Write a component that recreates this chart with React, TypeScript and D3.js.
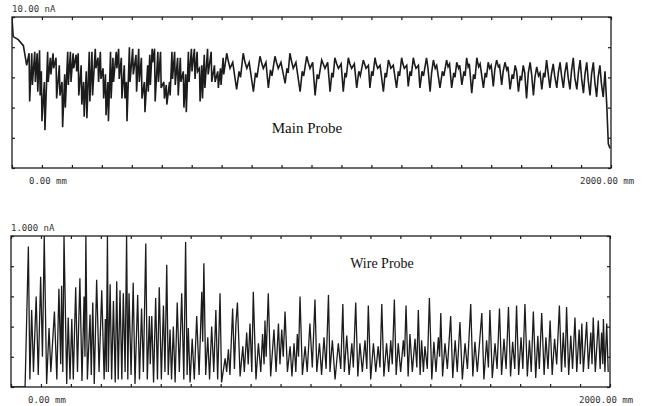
import React, { useEffect, useRef } from 'react'
import * as d3 from 'd3'

// position along the probe (mm) and measured current (nA)
const mainTrace: [number, number][] = [
  [0, 9.9], [4, 8.7], [21, 8.5], [38, 8.1], [49, 6.8],
  [57, 7.6], [59, 4.4], [66, 7.6], [68, 5.5], [76, 7.7], [78, 5.7], [84, 7.6], [86, 5.05],
  [92, 7.8], [94, 4.8], [98, 6.4], [100, 3.1], [108, 5.7], [110, 2.5], [119, 7.7], [121, 5.7],
  [128, 7.3], [130, 6.2], [137, 7.6], [139, 6.6], [147, 7.3], [149, 4.6], [158, 6.8], [160, 4.8],
  [167, 5.7], [169, 2.7], [176, 6.2], [178, 4.0], [186, 7.7], [188, 5.5], [195, 7.7], [197, 5.7],
  [204, 7.6], [206, 6.6], [214, 7.5], [216, 6.4], [221, 7.6], [223, 4.8], [231, 6.8], [233, 4.2],
  [239, 5.7], [241, 3.4], [248, 6.4], [250, 3.3], [258, 7.7], [260, 4.4], [267, 7.7], [269, 4.8],
  [278, 7.9], [280, 6.6], [287, 7.3], [289, 5.7], [295, 7.7], [297, 5.9], [304, 6.6], [306, 4.6],
  [312, 6.2], [314, 3.5], [320, 5.7], [322, 3.1], [329, 7.7], [331, 4.6], [337, 7.3], [339, 5.7],
  [348, 7.7], [350, 6.6], [356, 7.9], [358, 5.9], [365, 7.3], [367, 4.6], [375, 6.8], [377, 4.6],
  [382, 5.7], [384, 3.1], [392, 8.0], [394, 5.7], [403, 7.9], [405, 6.2], [414, 7.5], [416, 5.05],
  [423, 7.9], [425, 5.7], [432, 7.3], [434, 4.6], [442, 5.7], [444, 3.7], [453, 6.8], [455, 5.05],
  [460, 7.5], [462, 5.5], [468, 7.9], [470, 7.0], [476, 7.9], [478, 4.4], [487, 7.7], [489, 5.7],
  [496, 7.7], [498, 5.3], [507, 5.7], [509, 4.6], [515, 5.5], [517, 4.2], [526, 5.7], [528, 4.8],
  [534, 7.7], [536, 5.9], [543, 7.7], [545, 5.5], [553, 7.3], [555, 4.8], [562, 7.3], [564, 5.7],
  [572, 6.4], [574, 4.0], [580, 6.2], [582, 3.7], [589, 7.7], [591, 5.7], [599, 7.9], [601, 6.4],
  [609, 7.9], [611, 5.9], [618, 7.7], [620, 6.4], [626, 6.6], [628, 4.4], [634, 6.8], [636, 4.6],
  [642, 7.5], [644, 5.3], [653, 7.9], [655, 6.2], [665, 7.7], [667, 5.7], [676, 6.8], [678, 5.7],
  [687, 6.4], [689, 5.3], [696, 6.6], [698, 5.5], [705, 7.3], [707, 6.2],
  [717, 7.6], [722, 7.1], [728, 6.6], [737, 7.0], [750, 5.2], [758, 6.4], [763, 6.0],
  [772, 7.6], [778, 7.0], [784, 6.6], [792, 7.0], [806, 5.05], [813, 6.3], [818, 6.0],
  [828, 7.4], [833, 7.0], [839, 6.6], [848, 7.0], [856, 5.3], [863, 6.5], [868, 6.1],
  [878, 7.4], [883, 7.0], [889, 6.6], [898, 7.0], [912, 5.6], [918, 6.6], [922, 6.3],
  [928, 7.6], [933, 7.1], [939, 6.6], [948, 7.0], [962, 5.05], [969, 6.4], [974, 6.1],
  [984, 7.4], [989, 7.0], [995, 6.6], [1004, 7.0], [1012, 4.8], [1019, 6.2], [1024, 5.9],
  [1034, 7.15], [1039, 6.9], [1045, 6.6], [1054, 7.0], [1062, 5.05], [1068, 6.3], [1072, 6.0],
  [1078, 7.3], [1084, 6.9], [1090, 6.6], [1099, 6.9], [1106, 5.05], [1112, 6.3], [1116, 6.0],
  [1123, 7.3], [1128, 6.9], [1134, 6.6], [1143, 6.9], [1151, 5.3], [1158, 6.4], [1163, 6.1],
  [1173, 7.15], [1177, 6.9], [1182, 6.6], [1190, 6.8], [1195, 5.3], [1201, 6.4], [1205, 6.1],
  [1212, 7.3], [1216, 6.9], [1221, 6.6], [1229, 6.8], [1240, 5.05], [1246, 6.3], [1250, 6.0],
  [1257, 7.15], [1261, 6.9], [1265, 6.6], [1273, 6.8], [1284, 5.3], [1290, 6.4], [1294, 6.1],
  [1301, 7.3], [1305, 6.9], [1310, 6.6], [1318, 6.8], [1323, 5.4], [1329, 6.4], [1333, 6.1],
  [1340, 7.3], [1344, 6.9], [1349, 6.6], [1357, 6.8], [1362, 5.3], [1369, 6.4], [1374, 6.1],
  [1384, 7.3], [1389, 6.6], [1396, 5.05], [1401, 6.3],
  [1407, 7.15], [1413, 6.6], [1418, 6.8], [1429, 5.3], [1437, 6.4], [1442, 6.1],
  [1451, 7.15], [1456, 6.7], [1461, 6.9], [1468, 5.3], [1475, 6.3], [1479, 6.0],
  [1485, 7.0], [1491, 6.6], [1495, 6.8], [1502, 5.5], [1509, 6.4], [1513, 6.1],
  [1518, 7.3], [1523, 6.7], [1527, 6.9], [1535, 4.95], [1541, 6.2], [1546, 5.9],
  [1552, 7.3], [1558, 6.7], [1563, 6.9], [1574, 5.3], [1580, 6.3], [1584, 6.0],
  [1590, 7.0], [1595, 6.6], [1600, 6.8], [1607, 5.4], [1612, 6.5],
  [1618, 7.15], [1624, 6.7], [1628, 6.8], [1635, 5.5], [1640, 6.4],
  [1646, 7.0], [1652, 6.5], [1656, 6.7], [1663, 5.2], [1670, 6.2], [1674, 5.9],
  [1680, 6.8], [1685, 6.4], [1691, 5.05], [1697, 6.1], [1701, 5.8],
  [1707, 6.8], [1712, 6.3], [1718, 4.6], [1724, 6.3],
  [1730, 7.0], [1735, 6.2], [1741, 4.8], [1746, 6.0],
  [1752, 6.7], [1758, 6.1], [1763, 6.3], [1769, 5.2], [1775, 6.3], [1779, 6.0],
  [1785, 7.15], [1790, 6.3], [1796, 5.3], [1801, 6.2],
  [1807, 6.9], [1812, 6.1], [1819, 5.3], [1824, 6.3],
  [1830, 7.0], [1835, 6.1], [1841, 5.3], [1846, 6.3],
  [1852, 7.0], [1857, 6.0], [1863, 5.2], [1868, 6.4],
  [1874, 7.3], [1879, 6.0], [1886, 5.2], [1891, 6.3],
  [1897, 7.15], [1902, 5.9], [1908, 4.95], [1913, 6.2],
  [1919, 7.0], [1924, 5.8], [1930, 4.8], [1935, 6.2],
  [1941, 7.0], [1946, 5.7], [1952, 4.7], [1957, 6.0],
  [1963, 6.8], [1968, 5.6], [1974, 4.7], [1980, 6.4], [1986, 4.1], [1991, 1.6], [1997, 1.3],
]

const wireTrace: [number, number][] = [
  [0, 0], [47, 0], [58, 0.93], [63, 0.05], [69, 0.51], [75, 0.1], [84, 0.6], [91, 0.08],
  [99, 0.73], [105, 0.2], [111, 1.0], [119, 0.02], [127, 0.39], [133, 0.1], [145, 0.5], [153, 0.05],
  [160, 0.65], [166, 0.15], [169, 0.67], [173, 0.1], [177, 1.0], [186, 0.02], [191, 0.46], [197, 0.05],
  [203, 0.45], [208, 0.05], [216, 0.66], [222, 0.1], [230, 0.72], [237, 0.04], [244, 0.6], [247, 0.2],
  [250, 1.0], [255, 0.05], [264, 0.48], [268, 0.08], [273, 0.56], [278, 0.02], [286, 0.71], [294, 0.1],
  [303, 0.64], [311, 0.05], [315, 0.45], [318, 0.1], [322, 1.0], [325, 0.1], [331, 0.68], [336, 0.05],
  [342, 0.57], [348, 0.03], [353, 0.7], [358, 0.05], [364, 0.64], [370, 0.05], [375, 0.62], [381, 0.1],
  [386, 1.0], [390, 0.05], [394, 0.62], [401, 0.08], [408, 0.69], [414, 0.02], [423, 0.61], [429, 0.05],
  [436, 0.52], [442, 0.1], [450, 0.95], [455, 0.05], [462, 0.47], [465, 0.15], [470, 0.47], [476, 0.03],
  [483, 0.59], [489, 0.05], [495, 0.66], [502, 0.05], [509, 0.54], [514, 0.1], [520, 0.81], [525, 0.08],
  [531, 0.38], [536, 0.05], [542, 0.4], [548, 0.03], [555, 0.56], [562, 0.1], [570, 0.62], [577, 0.05],
  [583, 0.96], [588, 0.08], [592, 0.39], [598, 0.03], [605, 0.32], [612, 0.05], [620, 0.47], [628, 0.08],
  [637, 0.63], [640, 0.3], [644, 0.82], [650, 0.08], [657, 0.33], [663, 0.05], [670, 0.4], [677, 0.1],
  [684, 0.51], [690, 0.05], [698, 0.62], [703, 0.03], [715, 0.19], [720, 0.1], [726, 0.25], [731, 0.08],
  [740, 0.52], [746, 0.12], [751, 0.42], [756, 0.56], [765, 0.07], [774, 0.27], [779, 0.1], [787, 0.36],
  [792, 0.15], [798, 0.42], [804, 0.1], [809, 0.63], [818, 0.05], [826, 0.29], [834, 0.1], [840, 0.35],
  [845, 0.15], [848, 0.44], [852, 0.2], [859, 0.62], [867, 0.07], [878, 0.38], [885, 0.1], [893, 0.42],
  [898, 0.15], [904, 0.38], [909, 0.2], [915, 0.5], [923, 0.1], [932, 0.27], [938, 0.07], [945, 0.29],
  [951, 0.1], [956, 0.35], [960, 0.2], [965, 0.6], [973, 0.08], [982, 0.27], [989, 0.1], [998, 0.42],
  [1006, 0.13], [1015, 0.58], [1021, 0.1], [1030, 0.29], [1037, 0.08], [1045, 0.33], [1052, 0.12], [1060, 0.61],
  [1065, 0.1], [1073, 0.31], [1082, 0.05], [1093, 0.29], [1101, 0.12], [1108, 0.55], [1113, 0.1], [1121, 0.34],
  [1129, 0.08], [1138, 0.29], [1143, 0.13], [1151, 0.56], [1158, 0.07], [1165, 0.29], [1173, 0.1], [1182, 0.31],
  [1188, 0.12], [1193, 0.54], [1201, 0.05], [1210, 0.29], [1218, 0.1], [1226, 0.27], [1232, 0.13], [1238, 0.55],
  [1245, 0.07], [1254, 0.29], [1261, 0.1], [1268, 0.31], [1273, 0.15], [1280, 0.58], [1286, 0.08], [1293, 0.29],
  [1301, 0.1], [1310, 0.31], [1314, 0.2], [1319, 0.54], [1326, 0.07], [1332, 0.35], [1340, 0.1], [1349, 0.32],
  [1355, 0.13], [1360, 0.51], [1366, 0.08], [1371, 0.31], [1377, 0.1], [1382, 0.27], [1390, 0.12], [1397, 0.59],
  [1405, 0.05], [1412, 0.3], [1419, 0.1], [1427, 0.33], [1431, 0.2], [1435, 0.49], [1441, 0.07], [1449, 0.29],
  [1457, 0.12], [1468, 0.47], [1475, 0.06], [1483, 0.31], [1490, 0.1], [1499, 0.43], [1507, 0.05], [1516, 0.29],
  [1524, 0.12], [1535, 0.55], [1542, 0.07], [1549, 0.3], [1557, 0.1], [1572, 0.49], [1579, 0.05], [1588, 0.31],
  [1594, 0.13], [1599, 0.51], [1607, 0.06], [1616, 0.29], [1623, 0.12], [1631, 0.52], [1638, 0.08], [1646, 0.32],
  [1653, 0.12], [1661, 0.53], [1668, 0.07], [1675, 0.3], [1682, 0.12], [1688, 0.54], [1695, 0.08], [1703, 0.33],
  [1709, 0.12], [1716, 0.55], [1724, 0.07], [1731, 0.31], [1737, 0.1], [1744, 0.5], [1752, 0.06], [1759, 0.34],
  [1764, 0.12], [1772, 0.49], [1780, 0.08], [1786, 0.33], [1793, 0.12], [1800, 0.44], [1807, 0.08], [1815, 0.32],
  [1822, 0.15], [1831, 0.54], [1838, 0.1], [1844, 0.36], [1850, 0.13], [1855, 0.53], [1862, 0.08], [1869, 0.34],
  [1875, 0.12], [1883, 0.46], [1889, 0.1], [1897, 0.38], [1901, 0.15], [1906, 0.42], [1911, 0.1], [1922, 0.43],
  [1928, 0.12], [1936, 0.36], [1940, 0.15], [1944, 0.46], [1951, 0.1], [1961, 0.44], [1967, 0.12], [1972, 0.36],
  [1976, 0.15], [1978, 0.45], [1983, 0.1], [1989, 0.42], [1994, 0.1],
]

const xDomain = [0, 2000]
const mainRange = [0, 10]
const wireRange = [0, 1]
const fullScaleLabels = ['10.00 nA', '1.000 nA']
const startLabel = '0.00 mm'
const endLabel = '2000.00 mm'
const titles = ['Main Probe', 'Wire Probe']

const INK = '#1c1c1c'

export default function App() {
  const ref = useRef<SVGSVGElement>(null)

  useEffect(() => {
    const svg = d3.select(ref.current)
    svg.selectAll('*').remove()

    const panels = [
      { left: 12, top: 17, trace: mainTrace, range: mainRange, label: fullScaleLabels[0], title: titles[0], titleX: 307, titleY: 133, size: 15, sw: 1.6 },
      { left: 11, top: 236, trace: wireTrace, range: wireRange, label: fullScaleLabels[1], title: titles[1], titleX: 382, titleY: 268, size: 14, sw: 1.3 },
    ]
    const w = 599, h = 151

    panels.forEach((p, i) => {
      const x = d3.scaleLinear().domain(xDomain).range([p.left, p.left + w])
      const y = d3.scaleLinear().domain(p.range).range([p.top + h, p.top])
      const g = svg.append('g')

      g.append('clipPath').attr('id', `clip${i}`)
        .append('rect').attr('x', p.left).attr('y', p.top).attr('width', w).attr('height', h)

      const line = d3.line<[number, number]>().x(d => x(d[0])).y(d => y(d[1]))
      g.append('path')
        .datum(p.trace)
        .attr('d', line)
        .attr('fill', 'none')
        .attr('stroke', INK)
        .attr('stroke-width', p.sw)
        .attr('stroke-linejoin', 'miter')
        .attr('clip-path', `url(#clip${i})`)

      // inward tick marks on all four sides
      const noLabel = () => ''
      const axes = [
        { a: d3.axisBottom(x).ticks(20).tickSize(-3), t: `translate(0,${p.top + h})` },
        { a: d3.axisTop(x).ticks(20).tickSize(-3), t: `translate(0,${p.top})` },
        { a: d3.axisLeft(y).ticks(5).tickSize(-3), t: `translate(${p.left},0)` },
        { a: d3.axisRight(y).ticks(5).tickSize(-3), t: `translate(${p.left + w},0)` },
      ]
      axes.forEach(({ a, t }) => {
        g.append('g')
          .attr('transform', t)
          .style('color', INK)
          .call(a.tickFormat(noLabel) as any)
          .call(s => s.select('.domain').remove())
          .selectAll('line').attr('stroke-width', 1.2)
      })

      g.append('rect')
        .attr('x', p.left).attr('y', p.top).attr('width', w).attr('height', h)
        .attr('fill', 'none').attr('stroke', INK).attr('stroke-width', 1.3)

      const mono = "'DejaVu Sans Mono', monospace"
      g.append('text').attr('x', p.left).attr('y', p.top - 5)
        .attr('font-family', mono).attr('font-size', 9).attr('fill', '#333')
        .text(p.label)
      g.append('text').attr('x', p.left + 17).attr('y', p.top + h + 16)
        .attr('font-family', mono).attr('font-size', 9).attr('fill', '#333')
        .text(startLabel)
      g.append('text').attr('x', p.left + 568).attr('y', p.top + h + 16)
        .attr('font-family', mono).attr('font-size', 9).attr('fill', '#333')
        .text(endLabel)

      g.append('text').attr('x', p.titleX).attr('y', p.titleY)
        .attr('text-anchor', 'middle')
        .attr('font-family', "'Liberation Serif', 'Times New Roman', serif")
        .attr('font-size', p.size).attr('fill', '#111')
        .text(p.title)
    })
  }, [])

  return (
    <svg ref={ref} width={651} height={406}
      style={{ position: 'absolute', left: 0, top: 0, background: '#fff' }} />
  )
}
